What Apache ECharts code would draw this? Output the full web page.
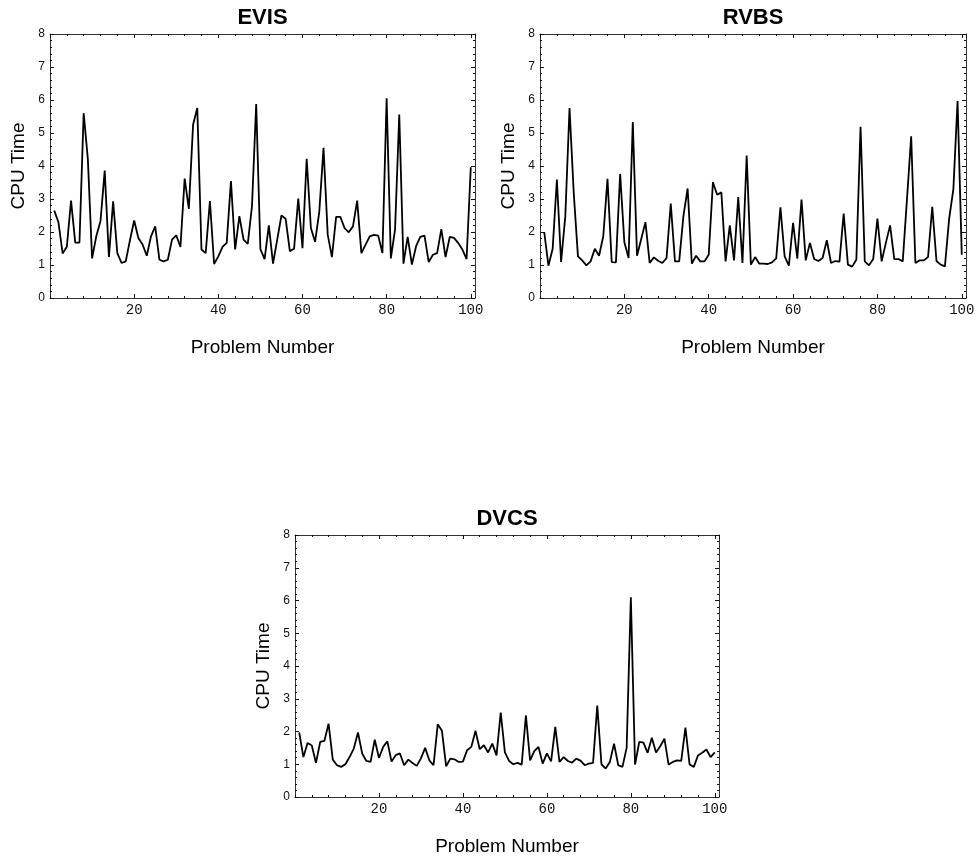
<!doctype html>
<html>
<head>
<meta charset="utf-8">
<title>CPU Time</title>
<script src="https://cdn.jsdelivr.net/npm/echarts@6.0.0/dist/echarts.min.js"></script>
<style>
	html, body {
		margin: 0;
		padding: 0;
		background: #fff;
	}
	#container {
		width: 980px;
		height: 857px;
	}
</style>
</head>
<body>
<div id="container"></div>
<script type="text/javascript">
	// CPU time per problem, problems 1..100
	var evis = [2.65, 2.3, 1.35, 1.55, 2.95, 1.68, 1.68, 5.6, 4.2, 1.2,
		1.87, 2.33, 3.86, 1.24, 2.93, 1.36, 1.06, 1.11, 1.75, 2.35,
		1.82, 1.62, 1.28, 1.87, 2.17, 1.16, 1.11, 1.16, 1.77, 1.9,
		1.55, 3.62, 2.7, 5.25, 5.76, 1.47, 1.36, 2.94, 1.03, 1.26,
		1.55, 1.67, 3.54, 1.47, 2.48, 1.77, 1.64, 2.78, 5.88, 1.48,
		1.18, 2.2, 1.04, 1.77, 2.5, 2.4, 1.42, 1.49, 3.01, 1.51,
		4.22, 2.12, 1.7, 2.62, 4.55, 1.92, 1.24, 2.46, 2.46, 2.12,
		1.99, 2.17, 2.95, 1.36, 1.62, 1.87, 1.91, 1.89, 1.36, 6.05,
		1.2, 2.07, 5.56, 1.04, 1.85, 1.01, 1.57, 1.85, 1.89, 1.09,
		1.31, 1.36, 2.09, 1.24, 1.85, 1.82, 1.67, 1.47, 1.18, 3.96];
	var rvbs = [2.0, 0.98, 1.49, 3.59, 1.09, 2.48, 5.76, 3.18, 1.26, 1.14,
		0.99, 1.11, 1.49, 1.28, 1.87, 3.61, 1.09, 1.08, 3.76, 1.69,
		1.21, 5.33, 1.28, 1.79, 2.3, 1.06, 1.23, 1.13, 1.06, 1.21,
		2.86, 1.11, 1.11, 2.48, 3.32, 1.04, 1.28, 1.11, 1.11, 1.31,
		3.51, 3.13, 3.2, 1.11, 2.2, 1.14, 3.06, 1.06, 4.32, 1.01,
		1.24, 1.04, 1.04, 1.03, 1.08, 1.2, 2.75, 1.26, 0.98, 2.28,
		1.19, 2.98, 1.14, 1.67, 1.18, 1.12, 1.21, 1.75, 1.06, 1.12,
		1.1, 2.56, 1.01, 0.95, 1.16, 5.19, 1.11, 0.99, 1.18, 2.41,
		1.11, 1.67, 2.2, 1.18, 1.18, 1.11, 2.98, 4.9, 1.06, 1.14,
		1.14, 1.24, 2.76, 1.12, 1.01, 0.96, 2.4, 3.29, 5.97, 1.31];
	var dvcs = [1.97, 1.22, 1.65, 1.57, 1.04, 1.68, 1.71, 2.24, 1.14, 0.97,
		0.92, 1.0, 1.22, 1.48, 1.97, 1.33, 1.1, 1.07, 1.75, 1.19,
		1.53, 1.7, 1.08, 1.28, 1.33, 0.97, 1.14, 1.04, 0.95, 1.18,
		1.5, 1.12, 0.97, 2.22, 2.02, 0.94, 1.17, 1.15, 1.07, 1.08,
		1.43, 1.53, 2.02, 1.46, 1.58, 1.36, 1.63, 1.27, 2.58, 1.36,
		1.1, 1.0, 1.04, 0.99, 2.49, 1.12, 1.4, 1.53, 1.02, 1.33,
		1.09, 2.14, 1.07, 1.22, 1.1, 1.05, 1.17, 1.11, 0.97, 1.02,
		1.04, 2.79, 1.0, 0.87, 1.07, 1.63, 0.97, 0.92, 1.5, 6.1,
		0.99, 1.68, 1.66, 1.35, 1.81, 1.36, 1.55, 1.78, 0.99, 1.07,
		1.12, 1.1, 2.12, 0.99, 0.92, 1.27, 1.35, 1.45, 1.22, 1.36];

	var titles = ['EVIS', 'RVBS', 'DVCS'];
	var xTickLabels = [20, 40, 60, 80, 100];
	var yTickLabels = [0, 1, 2, 3, 4, 5, 6, 7, 8];

	var frames = [
		{left: 50, top: 34, width: 425, height: 264},
		{left: 540, top: 34, width: 426, height: 264},
		{left: 295, top: 535, width: 424, height: 262}
	];

	var dom = document.getElementById('container');
	var myChart = echarts.init(dom, null, {renderer: 'canvas'});

	var frameColor = '#333';
	var grid = [], xAxis = [], yAxis = [], title = [], series = [];

	function xAx(g, pos, interval, len, labels, line, name) {
		return {
			type: 'value',
			gridIndex: g,
			position: pos,
			min: 0,
			max: 101,
			interval: interval,
			name: name || '',
			nameLocation: 'middle',
			nameGap: 40,
			nameTextStyle: {fontFamily: 'Liberation Sans', fontSize: 19, color: '#000'},
			axisLine: {show: line, onZero: false, lineStyle: {color: frameColor, width: 1}},
			axisTick: {show: true, inside: true, length: len, lineStyle: {color: '#111', width: 1}},
			splitLine: {show: false},
			axisLabel: {
				show: labels,
				margin: 5,
				showMinLabel: false,
				showMaxLabel: false,
				fontFamily: 'Liberation Mono',
				fontSize: 14,
				color: '#111',
				formatter: function (v) {
					return xTickLabels.indexOf(v) >= 0 ? String(v) : '';
				}
			}
		};
	}

	function yAx(g, pos, labels, name) {
		return {
			type: 'value',
			gridIndex: g,
			position: pos,
			min: yTickLabels[0],
			max: yTickLabels[yTickLabels.length - 1],
			interval: 1,
			name: name || '',
			nameLocation: 'middle',
			nameGap: 22,
			nameTextStyle: {fontFamily: 'Liberation Sans', fontSize: 19, color: '#000'},
			axisLine: {show: true, onZero: false, lineStyle: {color: frameColor, width: 1}},
			axisTick: {show: true, inside: true, length: 4, lineStyle: {color: '#111', width: 1}},
			minorTick: {show: true, splitNumber: 5, length: 2, lineStyle: {color: '#111', width: 1}},
			splitLine: {show: false},
			minorSplitLine: {show: false},
			axisLabel: {
				show: labels,
				margin: 5,
				fontFamily: 'Liberation Sans',
				fontSize: 12,
				color: '#111'
			}
		};
	}

	var datasets = [evis, rvbs, dvcs];
	for (var g = 0; g < 3; g++) {
		var f = frames[g];
		grid.push({left: f.left, top: f.top, width: f.width, height: f.height, containLabel: false, outerBoundsMode: 'none'});
		xAxis.push(xAx(g, 'bottom', 20, 4, true, true, 'Problem Number'));
		xAxis.push(xAx(g, 'bottom', 4, 2, false, false));
		xAxis.push(xAx(g, 'top', 20, 4, false, true));
		xAxis.push(xAx(g, 'top', 4, 2, false, false));
		yAxis.push(yAx(g, 'left', true, 'CPU Time'));
		yAxis.push(yAx(g, 'right', false));
		title.push({
			text: titles[g],
			left: f.left + f.width / 2,
			top: f.top - 27,
			textAlign: 'center',
			padding: 0,
			textStyle: {fontFamily: 'Liberation Sans', fontWeight: 'bold', fontSize: 22, color: '#000'}
		});
		var pts = [];
		for (var i = 0; i < datasets[g].length; i++) {
			pts.push([i + 1, datasets[g][i]]);
		}
		series.push({
			name: titles[g],
			type: 'line',
			xAxisIndex: g * 4,
			yAxisIndex: g * 2,
			showSymbol: false,
			symbol: 'none',
			lineStyle: {color: '#000', width: 1.8},
			data: pts
		});
	}

	var option = {
		animation: false,
		backgroundColor: '#fff',
		title: title,
		grid: grid,
		xAxis: xAxis,
		yAxis: yAxis,
		series: series
	};

	myChart.setOption(option, true);
</script>
</body>
</html>
